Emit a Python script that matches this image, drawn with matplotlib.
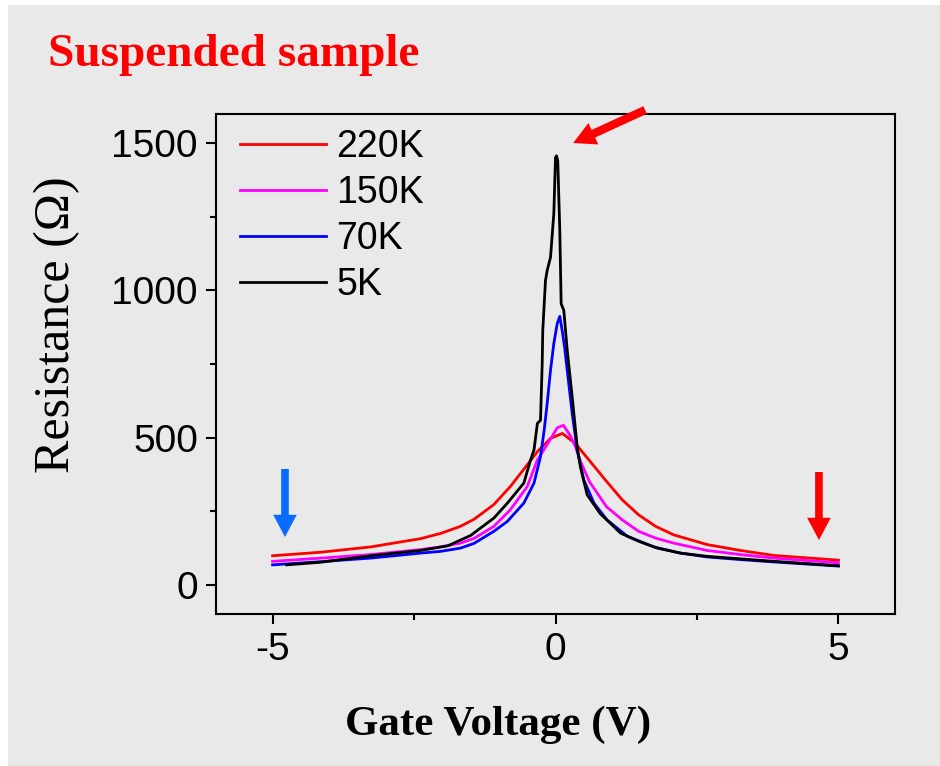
import matplotlib
matplotlib.use("Agg")
import matplotlib.pyplot as plt
from matplotlib.patches import Rectangle
from matplotlib.ticker import MultipleLocator

plt.rcParams["axes.unicode_minus"] = False

# data (gate voltage in V, resistance in Ohm)
v_220 = [-5.0, -4.15, -3.27, -2.39, -2.03, -1.68, -1.44, -1.09, -0.8, -0.5, -0.32, -0.088,
         0.12, 0.35, 0.59, 0.88, 1.18, 1.47, 1.77, 2.09, 2.68, 3.27, 3.86, 5.0]
r_220 = [98, 110, 128, 156, 174, 198, 222, 272, 333, 407, 452, 497,
         514, 480, 424, 356, 288, 237, 198, 169, 136, 116, 99, 83]

v_150 = [-5.0, -4.15, -3.27, -2.39, -2.03, -1.68, -1.44, -1.09, -0.8, -0.5, -0.32, -0.265, -0.088,
         0.03, 0.14, 0.265, 0.35, 0.44, 0.6, 0.9, 1.18, 1.47, 1.77, 2.09, 2.68, 3.27, 3.86, 5.0]
r_150 = [79, 90, 102, 119, 128, 141, 157, 198, 254, 333, 424, 440, 495,
         533, 542, 505, 470, 420, 350, 265, 220, 181, 158, 141, 116, 102, 90, 74]

v_70 = [-5.0, -4.15, -3.27, -2.39, -2.03, -1.68, -1.44, -1.09, -0.85, -0.56, -0.38, -0.265, -0.2,
        -0.147, -0.088, -0.03, 0.03, 0.076, 0.118, 0.16, 0.207, 0.295, 0.383, 0.5, 0.68, 0.91,
        1.27, 1.74, 2.21, 2.68, 3.27, 3.86, 5.0]
r_70 = [67, 78, 90, 107, 113, 124, 140, 181, 215, 277, 345, 435, 525,
        616, 729, 819, 887, 912, 864, 808, 729, 582, 458, 356, 277, 220,
        164, 128, 107, 94, 85, 77, 63]

v_5 = [-4.75, -4.15, -3.27, -2.39, -1.9, -1.5, -1.09, -0.85, -0.56, -0.44, -0.38, -0.32, -0.265,
       -0.235, -0.225, -0.177, -0.147, -0.088, -0.03, 0.0, 0.018, 0.04, 0.076, 0.10, 0.147,
       0.207, 0.295, 0.383, 0.44, 0.56, 0.795, 0.88, 1.15, 1.5, 1.8, 2.21, 2.68, 3.86, 5.0]
r_5 = [67, 76, 98, 116, 132, 167, 226, 277, 345, 424, 458, 548, 559,
       752, 864, 1034, 1068, 1113, 1260, 1452, 1458, 1440, 1203, 955, 932,
       797, 638, 469, 400, 305, 240, 225, 175, 145, 124, 107, 96, 79, 64]

bg = "#e9e9e9"

fig = plt.figure(figsize=(9.4, 7.66), dpi=100, facecolor="white")
#gray panel behind everything
fig.patches.append(Rectangle((8 / 940, 0), 1, 1 - 5 / 766, transform=fig.transFigure,
                             facecolor=bg, edgecolor="none", zorder=-10))

ax = fig.add_axes([216 / 940, 1 - 614 / 766, 679 / 940, 500 / 766])
ax.set_facecolor(bg)

ax.plot(v_220, r_220, color="#ff0000", lw=2, label="220K")
ax.plot(v_150, r_150, color="#ff00ff", lw=2, label="150K")
ax.plot(v_70, r_70, color="#0000ff", lw=2, label="70K")
ax.plot(v_5, r_5, color="black", lw=2, label="5K")

ax.set_xlim(-6, 6)
ax.set_ylim(-100, 1600)
ax.xaxis.set_major_locator(MultipleLocator(5))
ax.xaxis.set_minor_locator(MultipleLocator(2.5))
ax.yaxis.set_major_locator(MultipleLocator(500))
ax.yaxis.set_minor_locator(MultipleLocator(250))
ax.tick_params(which="both", direction="out", top=False, right=False, width=1.5,
               labelsize=28, labelfontfamily="Liberation Sans")
ax.tick_params(which="major", length=7, pad=6)
ax.tick_params(which="minor", length=4)
for s in ax.spines.values():
    s.set_linewidth(1.5)

ax.set_xlabel("Gate Voltage (V)", fontsize=31, fontweight="bold", family="Liberation Serif")
ax.xaxis.set_label_coords(0.415, -0.183)
ax.set_ylabel("Resistance (\u03a9)", fontsize=36, family="Liberation Serif")
ax.yaxis.set_label_coords(-0.20, 0.578)

ax.legend(loc="upper left", bbox_to_anchor=(0.035, 0.97), frameon=False,
          borderpad=0, borderaxespad=0, handlelength=2.3, handletextpad=0.27,
          labelspacing=0.27, prop={"family": "Liberation Sans", "size": 27})

fig.text(48 / 940, 1 - 66 / 766, "Suspended sample", color="#ff0000", fontsize=34,
         fontweight="bold", family="Liberation Serif", va="baseline")

#arrows
ax.annotate("", xy=(0.1016, 0.154), xytext=(0.1016, 0.29), xycoords="axes fraction",
            arrowprops=dict(arrowstyle="simple,head_length=1.6,head_width=1.7,tail_width=0.55",
                            color="#0a6cff", mutation_scale=10, shrinkA=0, shrinkB=0, lw=0))
ax.annotate("", xy=(0.888, 0.148), xytext=(0.888, 0.284), xycoords="axes fraction",
            arrowprops=dict(arrowstyle="simple,head_length=1.6,head_width=1.7,tail_width=0.55",
                            color="#ff0000", mutation_scale=10, shrinkA=0, shrinkB=0, lw=0))
ax.annotate("", xy=(0.526, 0.942), xytext=(0.632, 1.008), xycoords="axes fraction",
            annotation_clip=False,
            arrowprops=dict(arrowstyle="simple,head_length=1.6,head_width=1.7,tail_width=0.6",
                            color="#ff0000", mutation_scale=10, shrinkA=0, shrinkB=0, lw=0))

fig.savefig("out.png", dpi=100)
